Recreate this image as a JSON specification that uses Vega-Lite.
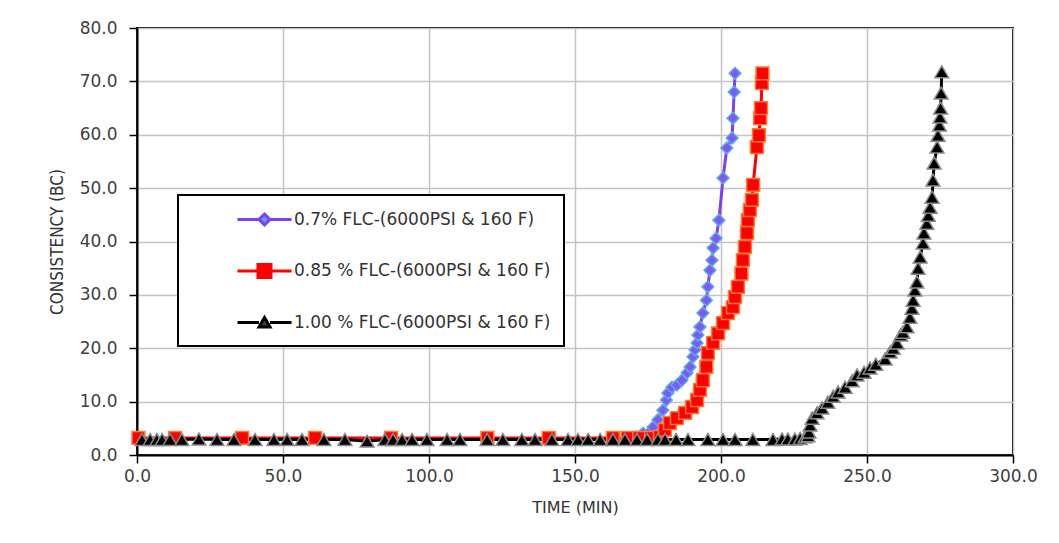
{
  "$schema": "https://vega.github.io/schema/vega-lite/v6.json",
  "width": 876,
  "height": 427,
  "autosize": {"type": "none"},
  "padding": {"left": 137, "top": 28, "right": 46, "bottom": 88},
  "background": "white",
  "config": {
    "view": {"stroke": "black", "strokeWidth": 2},
    "legend": {
      "orient": "none",
      "legendX": 41,
      "legendY": 167,
      "strokeColor": "black",
      "strokeWidth": 2,
      "fillColor": "white",
      "padding": 13,
      "rowPadding": 27.5,
      "symbolSize": 400,
      "symbolStrokeWidth": 3,
      "symbolOpacity": 1,
      "symbolOffset": 62,
      "labelOffset": 18,
      "labelLimit": 500,
      "labelFont": "DejaVu Sans",
      "labelFontSize": 17,
      "labelColor": "#333333"
    },
    "axis": {
      "labelFont": "DejaVu Sans",
      "labelFontSize": 17,
      "labelColor": "#404040",
      "labelFlush": false,
      "domainColor": "black",
      "domainWidth": 2,
      "tickColor": "black",
      "tickWidth": 1.5,
      "tickSize": 8,
      "gridColor": "#C4C4C4",
      "gridWidth": 1.5,
      "titleFontWeight": "normal",
      "titleColor": "#333333"
    }
  },
  "data": {
    "values": [
      {"series": "0.7% FLC-(6000PSI & 160 F)", "t": 0.5, "v": 3.1},
      {"series": "0.7% FLC-(6000PSI & 160 F)", "t": 13, "v": 3.1},
      {"series": "0.7% FLC-(6000PSI & 160 F)", "t": 36, "v": 3.1},
      {"series": "0.7% FLC-(6000PSI & 160 F)", "t": 61, "v": 3.1},
      {"series": "0.7% FLC-(6000PSI & 160 F)", "t": 87, "v": 3.1},
      {"series": "0.7% FLC-(6000PSI & 160 F)", "t": 120, "v": 3.1},
      {"series": "0.7% FLC-(6000PSI & 160 F)", "t": 141, "v": 3.1},
      {"series": "0.7% FLC-(6000PSI & 160 F)", "t": 163, "v": 3.1},
      {"series": "0.7% FLC-(6000PSI & 160 F)", "t": 168, "v": 3.1},
      {"series": "0.7% FLC-(6000PSI & 160 F)", "t": 171, "v": 3.4},
      {"series": "0.7% FLC-(6000PSI & 160 F)", "t": 173.3, "v": 4.1},
      {"series": "0.7% FLC-(6000PSI & 160 F)", "t": 176.7, "v": 5.2},
      {"series": "0.7% FLC-(6000PSI & 160 F)", "t": 178.4, "v": 6.6},
      {"series": "0.7% FLC-(6000PSI & 160 F)", "t": 180.1, "v": 8.4},
      {"series": "0.7% FLC-(6000PSI & 160 F)", "t": 181.3, "v": 10.3},
      {"series": "0.7% FLC-(6000PSI & 160 F)", "t": 181.8, "v": 11.6},
      {"series": "0.7% FLC-(6000PSI & 160 F)", "t": 183.2, "v": 12.7},
      {"series": "0.7% FLC-(6000PSI & 160 F)", "t": 184.9, "v": 13.1},
      {"series": "0.7% FLC-(6000PSI & 160 F)", "t": 186.6, "v": 14.0},
      {"series": "0.7% FLC-(6000PSI & 160 F)", "t": 188.4, "v": 15.4},
      {"series": "0.7% FLC-(6000PSI & 160 F)", "t": 189.4, "v": 16.5},
      {"series": "0.7% FLC-(6000PSI & 160 F)", "t": 190.4, "v": 18.4},
      {"series": "0.7% FLC-(6000PSI & 160 F)", "t": 191.1, "v": 19.7},
      {"series": "0.7% FLC-(6000PSI & 160 F)", "t": 191.8, "v": 21.0},
      {"series": "0.7% FLC-(6000PSI & 160 F)", "t": 192.1, "v": 22.5},
      {"series": "0.7% FLC-(6000PSI & 160 F)", "t": 192.8, "v": 24.0},
      {"series": "0.7% FLC-(6000PSI & 160 F)", "t": 193.8, "v": 26.6},
      {"series": "0.7% FLC-(6000PSI & 160 F)", "t": 195.0, "v": 29.0},
      {"series": "0.7% FLC-(6000PSI & 160 F)", "t": 195.5, "v": 31.5},
      {"series": "0.7% FLC-(6000PSI & 160 F)", "t": 196.2, "v": 34.6},
      {"series": "0.7% FLC-(6000PSI & 160 F)", "t": 196.9, "v": 36.5},
      {"series": "0.7% FLC-(6000PSI & 160 F)", "t": 197.3, "v": 38.8},
      {"series": "0.7% FLC-(6000PSI & 160 F)", "t": 198.3, "v": 40.6},
      {"series": "0.7% FLC-(6000PSI & 160 F)", "t": 199.3, "v": 44.0},
      {"series": "0.7% FLC-(6000PSI & 160 F)", "t": 200.7, "v": 51.9},
      {"series": "0.7% FLC-(6000PSI & 160 F)", "t": 202.0, "v": 57.5},
      {"series": "0.7% FLC-(6000PSI & 160 F)", "t": 203.8, "v": 59.4},
      {"series": "0.7% FLC-(6000PSI & 160 F)", "t": 204.1, "v": 63.1},
      {"series": "0.7% FLC-(6000PSI & 160 F)", "t": 204.5, "v": 68.0},
      {"series": "0.7% FLC-(6000PSI & 160 F)", "t": 204.8, "v": 71.5},

      {"series": "0.85 % FLC-(6000PSI & 160 F)", "t": 0.5, "v": 3.2},
      {"series": "0.85 % FLC-(6000PSI & 160 F)", "t": 13, "v": 3.2},
      {"series": "0.85 % FLC-(6000PSI & 160 F)", "t": 36, "v": 3.2},
      {"series": "0.85 % FLC-(6000PSI & 160 F)", "t": 61, "v": 3.2},
      {"series": "0.85 % FLC-(6000PSI & 160 F)", "t": 87, "v": 3.2},
      {"series": "0.85 % FLC-(6000PSI & 160 F)", "t": 120, "v": 3.2},
      {"series": "0.85 % FLC-(6000PSI & 160 F)", "t": 141, "v": 3.2},
      {"series": "0.85 % FLC-(6000PSI & 160 F)", "t": 163, "v": 3.2},
      {"series": "0.85 % FLC-(6000PSI & 160 F)", "t": 168, "v": 3.2},
      {"series": "0.85 % FLC-(6000PSI & 160 F)", "t": 172, "v": 3.2},
      {"series": "0.85 % FLC-(6000PSI & 160 F)", "t": 176, "v": 3.2},
      {"series": "0.85 % FLC-(6000PSI & 160 F)", "t": 179.1, "v": 3.4},
      {"series": "0.85 % FLC-(6000PSI & 160 F)", "t": 180.8, "v": 4.7},
      {"series": "0.85 % FLC-(6000PSI & 160 F)", "t": 182.5, "v": 6.0},
      {"series": "0.85 % FLC-(6000PSI & 160 F)", "t": 184.9, "v": 6.9},
      {"series": "0.85 % FLC-(6000PSI & 160 F)", "t": 187.7, "v": 7.9},
      {"series": "0.85 % FLC-(6000PSI & 160 F)", "t": 190.1, "v": 9.0},
      {"series": "0.85 % FLC-(6000PSI & 160 F)", "t": 191.8, "v": 10.3},
      {"series": "0.85 % FLC-(6000PSI & 160 F)", "t": 192.8, "v": 12.2},
      {"series": "0.85 % FLC-(6000PSI & 160 F)", "t": 193.8, "v": 14.0},
      {"series": "0.85 % FLC-(6000PSI & 160 F)", "t": 195.0, "v": 16.5},
      {"series": "0.85 % FLC-(6000PSI & 160 F)", "t": 195.5, "v": 19.1},
      {"series": "0.85 % FLC-(6000PSI & 160 F)", "t": 197.3, "v": 21.0},
      {"series": "0.85 % FLC-(6000PSI & 160 F)", "t": 199.0, "v": 22.8},
      {"series": "0.85 % FLC-(6000PSI & 160 F)", "t": 200.7, "v": 24.7},
      {"series": "0.85 % FLC-(6000PSI & 160 F)", "t": 202.4, "v": 26.6},
      {"series": "0.85 % FLC-(6000PSI & 160 F)", "t": 204.1, "v": 27.7},
      {"series": "0.85 % FLC-(6000PSI & 160 F)", "t": 204.8, "v": 29.6},
      {"series": "0.85 % FLC-(6000PSI & 160 F)", "t": 205.8, "v": 31.5},
      {"series": "0.85 % FLC-(6000PSI & 160 F)", "t": 207.0, "v": 34.0},
      {"series": "0.85 % FLC-(6000PSI & 160 F)", "t": 207.5, "v": 36.5},
      {"series": "0.85 % FLC-(6000PSI & 160 F)", "t": 208.2, "v": 39.0},
      {"series": "0.85 % FLC-(6000PSI & 160 F)", "t": 208.9, "v": 41.6},
      {"series": "0.85 % FLC-(6000PSI & 160 F)", "t": 209.2, "v": 44.0},
      {"series": "0.85 % FLC-(6000PSI & 160 F)", "t": 209.9, "v": 45.9},
      {"series": "0.85 % FLC-(6000PSI & 160 F)", "t": 210.6, "v": 47.8},
      {"series": "0.85 % FLC-(6000PSI & 160 F)", "t": 211.0, "v": 50.6},
      {"series": "0.85 % FLC-(6000PSI & 160 F)", "t": 212.3, "v": 57.7},
      {"series": "0.85 % FLC-(6000PSI & 160 F)", "t": 213.0, "v": 59.9},
      {"series": "0.85 % FLC-(6000PSI & 160 F)", "t": 213.4, "v": 63.1},
      {"series": "0.85 % FLC-(6000PSI & 160 F)", "t": 213.7, "v": 65.0},
      {"series": "0.85 % FLC-(6000PSI & 160 F)", "t": 214.0, "v": 69.7},
      {"series": "0.85 % FLC-(6000PSI & 160 F)", "t": 214.2, "v": 71.5},

      {"series": "1.00 % FLC-(6000PSI & 160 F)", "t": 1.7, "v": 2.9},
      {"series": "1.00 % FLC-(6000PSI & 160 F)", "t": 4.5, "v": 2.9},
      {"series": "1.00 % FLC-(6000PSI & 160 F)", "t": 6.8, "v": 2.9},
      {"series": "1.00 % FLC-(6000PSI & 160 F)", "t": 8.6, "v": 2.9},
      {"series": "1.00 % FLC-(6000PSI & 160 F)", "t": 11.3, "v": 2.9},
      {"series": "1.00 % FLC-(6000PSI & 160 F)", "t": 15.4, "v": 2.9},
      {"series": "1.00 % FLC-(6000PSI & 160 F)", "t": 21.2, "v": 3.0},
      {"series": "1.00 % FLC-(6000PSI & 160 F)", "t": 27.4, "v": 2.9},
      {"series": "1.00 % FLC-(6000PSI & 160 F)", "t": 33.2, "v": 2.9},
      {"series": "1.00 % FLC-(6000PSI & 160 F)", "t": 40.4, "v": 2.9},
      {"series": "1.00 % FLC-(6000PSI & 160 F)", "t": 46.9, "v": 2.9},
      {"series": "1.00 % FLC-(6000PSI & 160 F)", "t": 51.4, "v": 2.9},
      {"series": "1.00 % FLC-(6000PSI & 160 F)", "t": 56.5, "v": 2.9},
      {"series": "1.00 % FLC-(6000PSI & 160 F)", "t": 64.0, "v": 2.9},
      {"series": "1.00 % FLC-(6000PSI & 160 F)", "t": 71.2, "v": 2.9},
      {"series": "1.00 % FLC-(6000PSI & 160 F)", "t": 78.8, "v": 2.6},
      {"series": "1.00 % FLC-(6000PSI & 160 F)", "t": 84.9, "v": 2.9},
      {"series": "1.00 % FLC-(6000PSI & 160 F)", "t": 87.7, "v": 2.9},
      {"series": "1.00 % FLC-(6000PSI & 160 F)", "t": 90.8, "v": 2.9},
      {"series": "1.00 % FLC-(6000PSI & 160 F)", "t": 94.2, "v": 2.9},
      {"series": "1.00 % FLC-(6000PSI & 160 F)", "t": 99.3, "v": 2.9},
      {"series": "1.00 % FLC-(6000PSI & 160 F)", "t": 106.2, "v": 2.9},
      {"series": "1.00 % FLC-(6000PSI & 160 F)", "t": 110.6, "v": 2.9},
      {"series": "1.00 % FLC-(6000PSI & 160 F)", "t": 119.9, "v": 2.9},
      {"series": "1.00 % FLC-(6000PSI & 160 F)", "t": 125.3, "v": 2.9},
      {"series": "1.00 % FLC-(6000PSI & 160 F)", "t": 131.8, "v": 2.9},
      {"series": "1.00 % FLC-(6000PSI & 160 F)", "t": 136.3, "v": 2.9},
      {"series": "1.00 % FLC-(6000PSI & 160 F)", "t": 142.1, "v": 2.9},
      {"series": "1.00 % FLC-(6000PSI & 160 F)", "t": 147.6, "v": 2.9},
      {"series": "1.00 % FLC-(6000PSI & 160 F)", "t": 151.0, "v": 2.9},
      {"series": "1.00 % FLC-(6000PSI & 160 F)", "t": 154.5, "v": 2.9},
      {"series": "1.00 % FLC-(6000PSI & 160 F)", "t": 158.6, "v": 2.9},
      {"series": "1.00 % FLC-(6000PSI & 160 F)", "t": 163.0, "v": 2.9},
      {"series": "1.00 % FLC-(6000PSI & 160 F)", "t": 167.1, "v": 2.9},
      {"series": "1.00 % FLC-(6000PSI & 160 F)", "t": 171.2, "v": 2.9},
      {"series": "1.00 % FLC-(6000PSI & 160 F)", "t": 174.7, "v": 2.9},
      {"series": "1.00 % FLC-(6000PSI & 160 F)", "t": 178.4, "v": 2.9},
      {"series": "1.00 % FLC-(6000PSI & 160 F)", "t": 180.8, "v": 2.9},
      {"series": "1.00 % FLC-(6000PSI & 160 F)", "t": 184.6, "v": 2.9},
      {"series": "1.00 % FLC-(6000PSI & 160 F)", "t": 188.7, "v": 2.9},
      {"series": "1.00 % FLC-(6000PSI & 160 F)", "t": 195.5, "v": 2.9},
      {"series": "1.00 % FLC-(6000PSI & 160 F)", "t": 200.7, "v": 2.9},
      {"series": "1.00 % FLC-(6000PSI & 160 F)", "t": 204.8, "v": 2.9},
      {"series": "1.00 % FLC-(6000PSI & 160 F)", "t": 210.9, "v": 2.9},
      {"series": "1.00 % FLC-(6000PSI & 160 F)", "t": 217.8, "v": 2.9},
      {"series": "1.00 % FLC-(6000PSI & 160 F)", "t": 220.9, "v": 3.0},
      {"series": "1.00 % FLC-(6000PSI & 160 F)", "t": 222.9, "v": 3.0},
      {"series": "1.00 % FLC-(6000PSI & 160 F)", "t": 225.3, "v": 3.0},
      {"series": "1.00 % FLC-(6000PSI & 160 F)", "t": 227.1, "v": 3.1},
      {"series": "1.00 % FLC-(6000PSI & 160 F)", "t": 228.8, "v": 3.4},
      {"series": "1.00 % FLC-(6000PSI & 160 F)", "t": 229.8, "v": 3.6},
      {"series": "1.00 % FLC-(6000PSI & 160 F)", "t": 230.1, "v": 4.3},
      {"series": "1.00 % FLC-(6000PSI & 160 F)", "t": 230.5, "v": 5.6},
      {"series": "1.00 % FLC-(6000PSI & 160 F)", "t": 231.2, "v": 6.9},
      {"series": "1.00 % FLC-(6000PSI & 160 F)", "t": 232.9, "v": 7.9},
      {"series": "1.00 % FLC-(6000PSI & 160 F)", "t": 234.6, "v": 8.8},
      {"series": "1.00 % FLC-(6000PSI & 160 F)", "t": 236.6, "v": 9.9},
      {"series": "1.00 % FLC-(6000PSI & 160 F)", "t": 238.4, "v": 11.0},
      {"series": "1.00 % FLC-(6000PSI & 160 F)", "t": 240.1, "v": 11.8},
      {"series": "1.00 % FLC-(6000PSI & 160 F)", "t": 242.5, "v": 12.7},
      {"series": "1.00 % FLC-(6000PSI & 160 F)", "t": 244.9, "v": 13.9},
      {"series": "1.00 % FLC-(6000PSI & 160 F)", "t": 246.6, "v": 15.0},
      {"series": "1.00 % FLC-(6000PSI & 160 F)", "t": 249.0, "v": 15.5},
      {"series": "1.00 % FLC-(6000PSI & 160 F)", "t": 251.0, "v": 16.3},
      {"series": "1.00 % FLC-(6000PSI & 160 F)", "t": 253.0, "v": 17.0},
      {"series": "1.00 % FLC-(6000PSI & 160 F)", "t": 256.2, "v": 18.0},
      {"series": "1.00 % FLC-(6000PSI & 160 F)", "t": 257.9, "v": 19.3},
      {"series": "1.00 % FLC-(6000PSI & 160 F)", "t": 259.0, "v": 20.0},
      {"series": "1.00 % FLC-(6000PSI & 160 F)", "t": 260.3, "v": 21.0},
      {"series": "1.00 % FLC-(6000PSI & 160 F)", "t": 261.5, "v": 22.5},
      {"series": "1.00 % FLC-(6000PSI & 160 F)", "t": 262.3, "v": 23.0},
      {"series": "1.00 % FLC-(6000PSI & 160 F)", "t": 263.7, "v": 24.0},
      {"series": "1.00 % FLC-(6000PSI & 160 F)", "t": 264.7, "v": 25.8},
      {"series": "1.00 % FLC-(6000PSI & 160 F)", "t": 265.4, "v": 27.5},
      {"series": "1.00 % FLC-(6000PSI & 160 F)", "t": 265.8, "v": 29.0},
      {"series": "1.00 % FLC-(6000PSI & 160 F)", "t": 266.4, "v": 30.9},
      {"series": "1.00 % FLC-(6000PSI & 160 F)", "t": 267.1, "v": 32.4},
      {"series": "1.00 % FLC-(6000PSI & 160 F)", "t": 267.5, "v": 35.0},
      {"series": "1.00 % FLC-(6000PSI & 160 F)", "t": 268.2, "v": 37.1},
      {"series": "1.00 % FLC-(6000PSI & 160 F)", "t": 269.2, "v": 39.7},
      {"series": "1.00 % FLC-(6000PSI & 160 F)", "t": 269.5, "v": 41.6},
      {"series": "1.00 % FLC-(6000PSI & 160 F)", "t": 270.5, "v": 43.4},
      {"series": "1.00 % FLC-(6000PSI & 160 F)", "t": 271.0, "v": 44.9},
      {"series": "1.00 % FLC-(6000PSI & 160 F)", "t": 271.6, "v": 46.4},
      {"series": "1.00 % FLC-(6000PSI & 160 F)", "t": 272.3, "v": 48.3},
      {"series": "1.00 % FLC-(6000PSI & 160 F)", "t": 272.6, "v": 51.5},
      {"series": "1.00 % FLC-(6000PSI & 160 F)", "t": 273.0, "v": 54.7},
      {"series": "1.00 % FLC-(6000PSI & 160 F)", "t": 274.0, "v": 57.7},
      {"series": "1.00 % FLC-(6000PSI & 160 F)", "t": 274.3, "v": 59.9},
      {"series": "1.00 % FLC-(6000PSI & 160 F)", "t": 274.8, "v": 61.8},
      {"series": "1.00 % FLC-(6000PSI & 160 F)", "t": 275.0, "v": 63.3},
      {"series": "1.00 % FLC-(6000PSI & 160 F)", "t": 275.2, "v": 65.0},
      {"series": "1.00 % FLC-(6000PSI & 160 F)", "t": 275.4, "v": 67.8},
      {"series": "1.00 % FLC-(6000PSI & 160 F)", "t": 275.6, "v": 71.8}
    ]
  },
  "encoding": {
    "x": {
      "field": "t",
      "type": "quantitative",
      "scale": {"domain": [0, 300], "nice": false},
      "axis": {
        "values": [0, 50, 100, 150, 200, 250, 300],
        "format": ".1f",
        "labelPadding": 5,
        "title": "TIME (MIN)",
        "titleFont": "DejaVu Sans",
        "titleFontSize": 16,
        "titlePadding": 15
      }
    },
    "y": {
      "field": "v",
      "type": "quantitative",
      "scale": {"domain": [0, 80], "nice": false},
      "axis": {
        "values": [0, 10, 20, 30, 40, 50, 60, 70, 80],
        "format": ".1f",
        "labelPadding": 12,
        "title": "CONSISTENCY (BC)",
        "titleFont": "DejaVu Sans Condensed",
        "titleFontSize": 17,
        "titlePadding": 13
      }
    }
  },
  "resolve": {"scale": {"shape": "independent", "fill": "independent", "stroke": "independent", "size": "independent"}},
  "layer": [
    {
      "mark": {"type": "line", "strokeWidth": 3},
      "encoding": {
        "color": {
          "field": "series",
          "type": "nominal",
          "scale": {
            "domain": ["0.7% FLC-(6000PSI & 160 F)", "0.85 % FLC-(6000PSI & 160 F)", "1.00 % FLC-(6000PSI & 160 F)"],
            "range": ["#7B3FF5", "#FF0000", "#000000"]
          },
          "legend": null
        }
      }
    },
    {
      "mark": {"type": "point", "filled": true, "opacity": 1, "strokeWidth": 1.5},
      "encoding": {
        "shape": {
          "field": "series",
          "type": "nominal",
          "scale": {
            "domain": ["0.7% FLC-(6000PSI & 160 F)", "0.85 % FLC-(6000PSI & 160 F)", "1.00 % FLC-(6000PSI & 160 F)"],
            "range": ["diamond", "square", "triangle-up"]
          },
          "legend": null
        },
        "fill": {
          "field": "series",
          "type": "nominal",
          "scale": {
            "domain": ["0.7% FLC-(6000PSI & 160 F)", "0.85 % FLC-(6000PSI & 160 F)", "1.00 % FLC-(6000PSI & 160 F)"],
            "range": ["#7A5CF5", "#FF0000", "#000000"]
          },
          "legend": null
        },
        "stroke": {
          "field": "series",
          "type": "nominal",
          "scale": {
            "domain": ["0.7% FLC-(6000PSI & 160 F)", "0.85 % FLC-(6000PSI & 160 F)", "1.00 % FLC-(6000PSI & 160 F)"],
            "range": ["#5FA8E8", "#FF7A30", "#8A8A8A"]
          },
          "legend": null
        },
        "size": {
          "field": "series",
          "type": "nominal",
          "scale": {
            "domain": ["0.7% FLC-(6000PSI & 160 F)", "0.85 % FLC-(6000PSI & 160 F)", "1.00 % FLC-(6000PSI & 160 F)"],
            "range": [140, 190, 140]
          },
          "legend": null
        }
      }
    },
    {
      "transform": [{"filter": "datum.t < 0"}],
      "mark": {"type": "point", "filled": true, "opacity": 1},
      "encoding": {
        "shape": {
          "field": "series",
          "type": "nominal",
          "scale": {
            "domain": ["0.7% FLC-(6000PSI & 160 F)", "0.85 % FLC-(6000PSI & 160 F)", "1.00 % FLC-(6000PSI & 160 F)"],
            "range": [
              "M-2.7,0H-0.55M0.55,0H2.7M0,-0.55L0.55,0L0,0.55L-0.55,0Z",
              "M-2.7,0H-0.65M0.65,0H2.7M-0.65,-0.65H0.65V0.65H-0.65Z",
              "M-2.7,0H-0.55M0.55,0H2.7M0,-0.5L0.55,0.45H-0.55Z"
            ]
          },
          "legend": {"title": null}
        },
        "fill": {
          "field": "series",
          "type": "nominal",
          "scale": {
            "domain": ["0.7% FLC-(6000PSI & 160 F)", "0.85 % FLC-(6000PSI & 160 F)", "1.00 % FLC-(6000PSI & 160 F)"],
            "range": ["#5B9BE8", "#FF0000", "#404040"]
          },
          "legend": {"title": null}
        },
        "stroke": {
          "field": "series",
          "type": "nominal",
          "scale": {
            "domain": ["0.7% FLC-(6000PSI & 160 F)", "0.85 % FLC-(6000PSI & 160 F)", "1.00 % FLC-(6000PSI & 160 F)"],
            "range": ["#7B3FF5", "#FF0000", "#000000"]
          },
          "legend": {"title": null}
        }
      }
    }
  ]
}
